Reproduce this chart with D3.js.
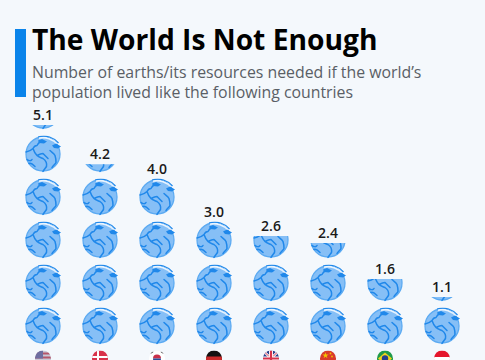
<!DOCTYPE html>
<html>
<head>
<meta charset="utf-8">
<script src="https://cdn.jsdelivr.net/npm/d3@7"></script>
<style>
  html, body { margin: 0; padding: 0; background: #f4f8fc; overflow: hidden; }
  text { font-family: "Open Sans", sans-serif; }
</style>
</head>
<body>
<div id="chart"></div>
<script>
var countries = ["United States", "Denmark", "South Korea", "Germany", "United Kingdom", "China", "Brazil", "Indonesia"];
var earths = [5.1, 4.2, 4.0, 3.0, 2.6, 2.4, 1.6, 1.1];
var subtitleLines = ["Number of earths/its resources needed if the world\u2019s", "population lived like the following countries"];

var svgWidth = 485;
var svgHeight = 360;

var svg = d3.select("#chart")
  .append("svg")
  .attr("width", svgWidth)
  .attr("height", svgHeight)
  .style("display", "block");

// Header
svg.append("rect")
  .attr("x", 15).attr("y", 29)
  .attr("width", 11).attr("height", 68)
  .attr("fill", "#0a84ea");

svg.append("text")
  .attr("x", 32).attr("y", 50)
  .attr("font-size", 28.2)
  .attr("font-weight", 700)
  .attr("fill", "#000")
  .text("The World Is Not Enough");

svg.selectAll(".sub")
  .data(subtitleLines)
  .join("text")
  .attr("class", "sub")
  .attr("x", 32)
  .attr("y", (d, i) => 78 + i * 19.5)
  .attr("font-size", 15.85)
  .attr("fill", "#5a5f66")
  .text(d => d);

// Scales. One unit of y is one earth, the icon is a bit smaller than the row.
var x = d3.scalePoint()
  .domain(countries)
  .range([43, 442]);

var y = d3.scaleLinear()
  .domain([0, 5])
  .range([347, 132]);

var unit = y(0) - y(1);
var iconH = 36;
var iconGap = (unit - iconH) / 2;

var defs = svg.append("defs");

// Globe glyph, drawn in a 36x36 box
var globe = defs.append("g").attr("id", "globe");
globe.append("circle")
  .attr("cx", 18).attr("cy", 18.5).attr("r", 17)
  .attr("fill", "#86bff6")
  .attr("stroke", "#5dabf2")
  .attr("stroke-width", 1.3);
// white highlight under the top arc
globe.append("path")
  .attr("d", "M14 2.5 C21 1 28 4 32 8.5")
  .attr("fill", "none")
  .attr("stroke", "#eaf4fe")
  .attr("stroke-width", 1.8);
// continents
globe.append("path")
  .attr("d", "M1 16.5 C4 16 6 15 8 13 C9 16 10 18 12 20 C14 19 16 18 18 18 C20 20 21 21 23 23 M12 20 C14 22 16 22 18 23 C21 25 22 28 21.5 31 C20 33 19 34 18 36 M8 13 C9 11 10 10 12 10 C13 8 14 7 15 6.5 M25 15 C27 17 29 18 30 20 C31 23 31 25 31 27 C30 29 28 30 27 32 M2 24 C3 25 6 26 7 24 M4 28 C6 27 8 29 10 31")
  .attr("fill", "none")
  .attr("stroke", "#2088ea")
  .attr("stroke-width", 1.5)
  .attr("stroke-linecap", "round")
  .attr("stroke-linejoin", "round");
// ice cap and the arc above it
globe.append("path")
  .attr("d", "M13 1.5 C21 -1 29 2 33.5 7.5")
  .attr("fill", "none")
  .attr("stroke", "#2088ea")
  .attr("stroke-width", 1.2);
globe.append("path")
  .attr("d", "M13 5 L17 3.5 L22 6 L19 8 L14 7.5 Z M27 10 L31 8 L36 11 L33 13 L29 12.5 Z")
  .attr("fill", "#2088ea");

// Flags, 16 wide and centred on 0,0
var flagR = 8;
var flagColors = {
  "United States": ["#c9c9d6", "#b5566a", "#6e6ea0"],
  "Denmark": ["#d8324a", "#ffffff"],
  "South Korea": ["#ffffff", "#c8304a", "#2a4f9a"],
  "Germany": ["#111111", "#c92a2a", "#f2c200"],
  "United Kingdom": ["#ffffff", "#d8324a", "#2a3f8c"],
  "China": ["#d93a2b", "#f2c200"],
  "Brazil": ["#1f9a4a", "#f2d21e", "#26408c"],
  "Indonesia": ["#e5162c", "#ffffff"]
};

function drawFlag(sel, name) {
  var c = flagColors[name];
  var r = flagR;
  sel.append("rect").attr("x", -r).attr("y", -r).attr("width", 2 * r).attr("height", 2 * r).attr("fill", c[0]);
  if (name === "United States") {
    [-6, -2, 2, 6].forEach(v => sel.append("rect").attr("x", -r).attr("y", v).attr("width", 2 * r).attr("height", 2).attr("fill", c[1]));
    sel.append("rect").attr("x", -r).attr("y", -r).attr("width", r).attr("height", r).attr("fill", c[2]);
  } else if (name === "Denmark") {
    sel.append("rect").attr("x", -r).attr("y", -2.5).attr("width", 2 * r).attr("height", 2).attr("fill", c[1]);
    sel.append("rect").attr("x", -3).attr("y", -r).attr("width", 2).attr("height", 2 * r).attr("fill", c[1]);
  } else if (name === "South Korea") {
    sel.append("path").attr("d", "M-4 0 A4 4 0 0 1 4 0 Z").attr("fill", c[1]);
    sel.append("path").attr("d", "M-4 0 A4 4 0 0 0 4 0 Z").attr("fill", c[2]);
    sel.append("path").attr("d", "M-7 -5 L-4 -7 M7 -5 L4 -7").attr("stroke", "#222").attr("stroke-width", 1.5);
  } else if (name === "Germany") {
    sel.append("rect").attr("x", -r).attr("y", -2).attr("width", 2 * r).attr("height", 6).attr("fill", c[1]);
    sel.append("rect").attr("x", -r).attr("y", 4).attr("width", 2 * r).attr("height", 4).attr("fill", c[2]);
  } else if (name === "United Kingdom") {
    sel.append("rect").attr("x", -r).attr("y", -r).attr("width", 2 * r).attr("height", 2 * r).attr("fill", c[2]);
    sel.append("path").attr("d", "M-8 -8 L8 8 M8 -8 L-8 8").attr("stroke", "#fff").attr("stroke-width", 2.5);
    sel.append("path").attr("d", "M-8 -8 L8 8 M8 -8 L-8 8").attr("stroke", c[1]).attr("stroke-width", 1);
    sel.append("path").attr("d", "M0 -8 V8 M-8 0 H8").attr("stroke", "#fff").attr("stroke-width", 4);
    sel.append("path").attr("d", "M0 -8 V8 M-8 0 H8").attr("stroke", c[1]).attr("stroke-width", 2.2);
  } else if (name === "China") {
    sel.append("path").attr("d", d3.symbol(d3.symbolStar, 12)()).attr("transform", "translate(-2.5,-3)").attr("fill", c[1]);
    sel.append("circle").attr("cx", 2.5).attr("cy", -5).attr("r", 0.9).attr("fill", c[1]);
    sel.append("circle").attr("cx", 4).attr("cy", -2).attr("r", 0.9).attr("fill", c[1]);
  } else if (name === "Brazil") {
    sel.append("path").attr("d", "M-7 0 L0 -6 L7 0 L0 6 Z").attr("fill", c[1]);
    sel.append("circle").attr("r", 3.2).attr("fill", c[2]);
  } else if (name === "Indonesia") {
    sel.append("rect").attr("x", -r).attr("y", -1.5).attr("width", 2 * r).attr("height", r + 1.5).attr("fill", c[1]);
  }
}

var rows = countries.map((name, i) => ({ name: name, value: earths[i] }));

var col = svg.selectAll(".country")
  .data(rows)
  .join("g")
  .attr("class", "country")
  .attr("transform", d => `translate(${x(d.name)},0)`);

col.each(function (d, i) {
  var g = d3.select(this);
  var whole = Math.floor(d.value + 1e-9);
  var part = d.value - whole;
  var units = d3.range(whole).map(k => ({ k: k, frac: 1 }));
  if (part > 1e-6) units.push({ k: whole, frac: part });

  units.forEach(u => {
    var top = y(u.k + 1) + iconGap;
    var id = `clip-${i}-${u.k}`;
    // a partial earth shows only its bottom share
    defs.append("clipPath").attr("id", id)
      .append("rect")
      .attr("x", -20)
      .attr("y", top + iconH * (1 - u.frac))
      .attr("width", 40)
      .attr("height", iconH * u.frac + 1);
    g.append("g")
      .attr("clip-path", `url(#${id})`)
      .append("use")
      .attr("href", "#globe")
      .attr("x", -18)
      .attr("y", top);
  });

  var topEdge = y(whole + (part > 1e-6 ? 1 : 0)) + iconGap + iconH * (part > 1e-6 ? 1 - part : 0);
  g.append("text")
    .attr("x", 0)
    .attr("y", topEdge - 5)
    .attr("text-anchor", "middle")
    .attr("font-size", 14)
    .attr("font-weight", 600)
    .attr("fill", "#1a1a1a")
    .text(d.value.toFixed(1));

  defs.append("clipPath").attr("id", `flag-${i}`)
    .append("circle").attr("r", flagR);
  var fg = g.append("g")
    .attr("transform", "translate(0,358.5)")
    .append("g")
    .attr("clip-path", `url(#flag-${i})`);
  drawFlag(fg, d.name);
});
</script>
</body>
</html>
